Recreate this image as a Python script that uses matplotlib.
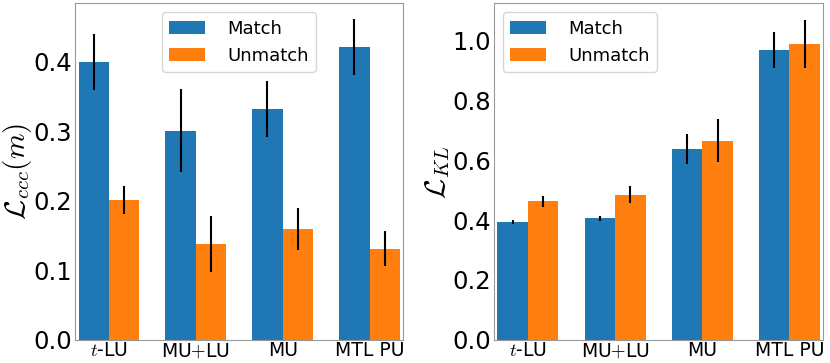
import matplotlib
matplotlib.use("Agg")
import matplotlib.pyplot as plt
import numpy as np

plt.rcParams['mathtext.fontset'] = 'cm'

methods = ["$t$-LU", "MU$+$LU", "MU", "MTL PU"]

# left panel: L_ccc(m)
ccc_match = [0.40, 0.301, 0.332, 0.421]
ccc_match_err = [0.04, 0.06, 0.04, 0.04]
ccc_unmatch = [0.201, 0.138, 0.159, 0.131]
ccc_unmatch_err = [0.02, 0.04, 0.03, 0.025]

# right panel: L_KL
kl_match = [0.393, 0.406, 0.636, 0.967]
kl_match_err = [0.007, 0.008, 0.05, 0.06]
kl_unmatch = [0.463, 0.485, 0.665, 0.986]
kl_unmatch_err = [0.018, 0.029, 0.073, 0.08]

fig = plt.figure(figsize=(8.3, 3.63), dpi=100)
ax1 = fig.add_axes([0.0904, 0.0634, 0.3951, 0.9276])
ax2 = fig.add_axes([0.595, 0.0634, 0.3966, 0.9276])

x = np.arange(len(methods))
w = 0.35


def draw(ax, m, me, u, ue, ylab, ymax, loc):
    ax.bar(x - w / 2, m, w, yerr=me, color="#1f77b4", label="Match",
           error_kw=dict(lw=1.5, capsize=0))
    ax.bar(x + w / 2, u, w, yerr=ue, color="#ff7f0e", label="Unmatch",
           error_kw=dict(lw=1.5, capsize=0))
    ax.set_xticks(x)
    ax.set_xticklabels(methods, fontsize=13.5)
    ax.tick_params(axis="y", labelsize=17.5, length=0, pad=2)
    ax.tick_params(axis="x", length=0, pad=1)
    ax.set_xlim(-0.39, 3.385)
    ax.set_ylim(0, ymax)
    ax.set_ylabel(ylab, fontsize=21, labelpad=0)
    for s in ax.spines.values():
        s.set_color("#999999")
    ax.legend(loc=loc, fontsize=13, handletextpad=1.2)


draw(ax1, ccc_match, ccc_match_err, ccc_unmatch, ccc_unmatch_err,
     r"$\mathcal{L}_{ccc}(m)$", 0.484, "upper center")
draw(ax2, kl_match, kl_match_err, kl_unmatch, kl_unmatch_err,
     r"$\mathcal{L}_{KL}$", 1.1226, "upper left")
ax2.set_yticks([0.0, 0.2, 0.4, 0.6, 0.8, 1.0])

fig.savefig("out.png", dpi=100)
